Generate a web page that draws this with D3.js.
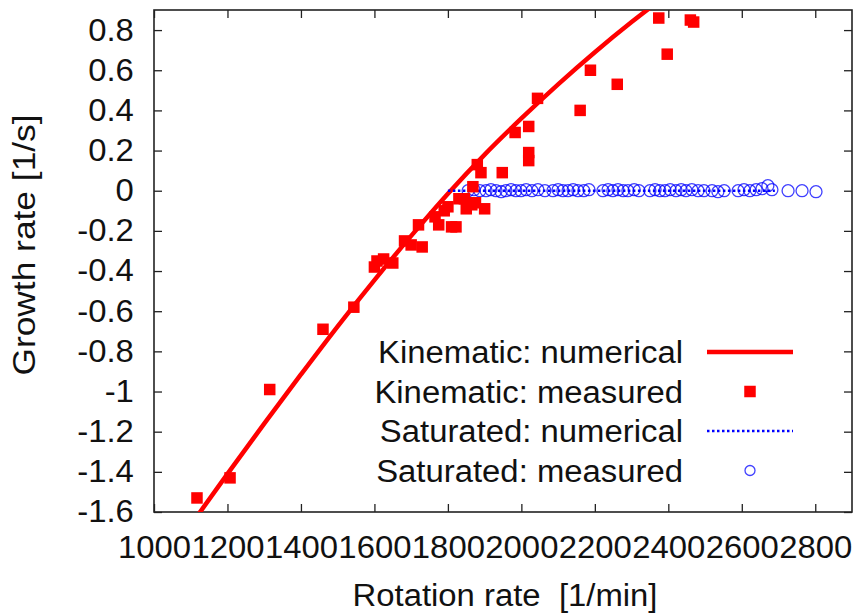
<!DOCTYPE html>
<html>
<head>
<meta charset="utf-8">
<script src="https://cdn.jsdelivr.net/npm/d3@7/dist/d3.min.js"></script>
<style>
  html, body { margin: 0; padding: 0; background: #fff; }
  svg { display: block; }
  text { font-family: "Liberation Sans", Arial, Helvetica, sans-serif; fill: #111; }
</style>
</head>
<body>
<svg id="chart" width="859" height="614"></svg>
<script>
// Axis ticks
const xTickValues = [1000, 1200, 1400, 1600, 1800, 2000, 2200, 2400, 2600, 2800];
const yTickValues = [-1.6, -1.4, -1.2, -1, -0.8, -0.6, -0.4, -0.2, 0, 0.2, 0.4, 0.6, 0.8];

// Kinematic: numerical (rotation rate [1/min], growth rate [1/s])
const kinNumX = [1100, 1200, 1300, 1400, 1500, 1600, 1700, 1800, 1900, 2000, 2100, 2200, 2300, 2400];
const kinNumY = [-1.665, -1.41, -1.16, -0.915, -0.675, -0.445, -0.225, -0.015, 0.18, 0.36, 0.53, 0.69, 0.84, 0.98];

// Kinematic: measured
const kinMeasX = [1117, 1207, 1315, 1460, 1544, 1600, 1607, 1625, 1650, 1682, 1700, 1720, 1730, 1765,
                  1775, 1790, 1800, 1810, 1822, 1830, 1845, 1850, 1865, 1868, 1875, 1880, 1890, 1900,
                  1948, 1983, 2020, 2020, 2020, 2044, 2160, 2188, 2261, 2374, 2397, 2460, 2469];
const kinMeasY = [-1.53, -1.43, -0.99, -0.69, -0.58, -0.38, -0.35, -0.34, -0.36, -0.25, -0.27, -0.17, -0.28, -0.13,
                  -0.17, -0.10, -0.08, -0.18, -0.18, -0.04, -0.04, -0.09, -0.07, 0.02, -0.06, 0.13, 0.09, -0.09,
                  0.09, 0.29, 0.32, 0.19, 0.15, 0.46, 0.40, 0.60, 0.53, 0.86, 0.68, 0.85, 0.84];

// Saturated: numerical
const satNumX = [1800, 2690];
const satNumY = [0, 0];

// Saturated: measured
const satMeasX = [1855, 1871, 1887, 1904, 1917, 1931, 1945, 1958, 1972, 1985, 1999, 2013,
                  2029, 2045, 2064,
                  2086, 2100, 2113, 2127, 2141, 2154, 2170, 2184,
                  2222, 2236, 2249, 2263, 2277, 2290, 2307, 2320,
                  2350, 2364, 2377, 2391, 2405, 2421, 2435, 2448, 2464, 2481, 2497,
                  2519, 2535, 2552,
                  2590, 2606, 2622, 2639, 2655, 2671, 2682,
                  2726, 2764, 2802];
const satMeasY = [0, 0.005, 0, 0, 0.005, 0, -0.005, 0, 0.005, 0, 0, 0.005,
                  0, 0.005, 0,
                  0, 0.005, 0, 0, 0.005, 0, 0, 0.005,
                  0, 0.005, 0, 0.005, 0, 0, 0.005, 0,
                  0, 0.005, 0, 0, 0.005, 0, 0.005, 0, 0.005, 0, 0,
                  0, -0.005, 0,
                  0, 0.005, 0, 0.005, 0.01, 0.025, 0.005,
                  0, 0, -0.005];

const legendLabels = ["Kinematic: numerical", "Kinematic: measured", "Saturated: numerical", "Saturated: measured"];

const svg = d3.select("#chart");
const plot = { left: 154, right: 852, top: 10, bottom: 512 };

const x = d3.scaleLinear().domain([1000, 2900]).range([plot.left, plot.right]);
const y = d3.scaleLinear().domain([-1.6, 0.9]).range([plot.bottom, plot.top]);

const RED = "#ff0000";
const BLUE = "#0000ff";
const FONT = 31;
const STRETCH = 1.06;

svg.append("defs").append("clipPath").attr("id", "plotClip")
  .append("rect")
  .attr("x", plot.left).attr("y", plot.top)
  .attr("width", plot.right - plot.left).attr("height", plot.bottom - plot.top);

// Axes with inward ticks (mirrored on top and right)
const tickLen = 8;
const fmt = d => String(+d.toFixed(1));

const gx = svg.append("g").attr("transform", `translate(0,${plot.bottom})`)
  .call(d3.axisBottom(x).tickValues(xTickValues).tickSize(-tickLen).tickPadding(24).tickFormat(d => String(d)));
const gy = svg.append("g").attr("transform", `translate(${plot.left},0)`)
  .call(d3.axisLeft(y).tickValues(yTickValues).tickSize(-tickLen).tickPadding(19).tickFormat(fmt));
const gxTop = svg.append("g").attr("transform", `translate(0,${plot.top})`)
  .call(d3.axisTop(x).tickValues(xTickValues).tickSize(-tickLen).tickFormat(""));
const gyRight = svg.append("g").attr("transform", `translate(${plot.right},0)`)
  .call(d3.axisRight(y).tickValues(yTickValues).tickSize(-tickLen).tickFormat(""));

[gx, gy, gxTop, gyRight].forEach(g => {
  g.select(".domain").remove();
  g.selectAll(".tick line").attr("stroke", "#222").attr("stroke-width", 1.3);
  g.selectAll(".tick text").attr("font-size", FONT)
    .attr("font-family", "'Liberation Sans', Arial, Helvetica, sans-serif").attr("fill", "#111")
    .attr("transform", `scale(${STRETCH},1)`);
});
gx.selectAll(".tick text").attr("dy", "0.71em");

// Frame
svg.append("rect")
  .attr("x", plot.left).attr("y", plot.top)
  .attr("width", plot.right - plot.left).attr("height", plot.bottom - plot.top)
  .attr("fill", "none").attr("stroke", "#222").attr("stroke-width", 1.6);

// Axis titles
svg.append("text")
  .attr("transform", `translate(${(plot.left + plot.right) / 2 + 2},606) scale(${STRETCH},1)`)
  .attr("text-anchor", "middle").attr("font-size", FONT)
  .attr("xml:space", "preserve").style("white-space", "pre")
  .text("Rotation rate  [1/min]");

svg.append("text")
  .attr("transform", `translate(35,245) rotate(-90) scale(1.14,1)`)
  .attr("text-anchor", "middle").attr("font-size", FONT)
  .text("Growth rate [1/s]");

const g = svg.append("g").attr("clip-path", "url(#plotClip)");

// Kinematic numerical curve
const kinNum = kinNumX.map((v, i) => [v, kinNumY[i]]);
const line = d3.line().x(d => x(d[0])).y(d => y(d[1])).curve(d3.curveMonotoneX);
g.append("path").datum(kinNum)
  .attr("d", line).attr("fill", "none").attr("stroke", RED).attr("stroke-width", 4.5);

// Saturated numerical line
const satNum = satNumX.map((v, i) => [v, satNumY[i]]);
g.append("path").datum(satNum)
  .attr("d", d3.line().x(d => x(d[0])).y(d => y(d[1])))
  .attr("fill", "none").attr("stroke", BLUE).attr("stroke-width", 2.4).attr("stroke-dasharray", "2.5,2.5");

// Saturated measured circles
const circR = 6;
const satMeas = satMeasX.map((v, i) => [v, satMeasY[i]]);
g.selectAll("circle.sat").data(satMeas).join("circle")
  .attr("class", "sat")
  .attr("cx", d => x(d[0])).attr("cy", d => y(d[1])).attr("r", circR)
  .attr("fill", "none").attr("stroke", BLUE).attr("stroke-opacity", 0.75).attr("stroke-width", 1.3);

// Kinematic measured squares
const sq = 11.5;
const kinMeas = kinMeasX.map((v, i) => [v, kinMeasY[i]]);
g.selectAll("rect.kin").data(kinMeas).join("rect")
  .attr("class", "kin")
  .attr("x", d => x(d[0]) - sq / 2).attr("y", d => y(d[1]) - sq / 2)
  .attr("width", sq).attr("height", sq).attr("fill", RED);

// Legend
const legend = svg.append("g");
const rowY = [352, 391.5, 431, 470.5];
const textX = 683, sampleL = 707, sampleR = 793, sampleC = 750;
legendLabels.forEach((lbl, i) => {
  legend.append("text")
    .attr("transform", `translate(${textX},${rowY[i]}) scale(${STRETCH},1)`)
    .attr("dy", "0.36em")
    .attr("text-anchor", "end").attr("font-size", FONT).text(lbl);
});
legend.append("line").attr("x1", sampleL).attr("x2", sampleR).attr("y1", rowY[0]).attr("y2", rowY[0])
  .attr("stroke", RED).attr("stroke-width", 4.5);
legend.append("rect").attr("x", sampleC - sq / 2).attr("y", rowY[1] - sq / 2)
  .attr("width", sq).attr("height", sq).attr("fill", RED);
legend.append("line").attr("x1", sampleL).attr("x2", sampleR).attr("y1", rowY[2]).attr("y2", rowY[2])
  .attr("stroke", BLUE).attr("stroke-width", 2.4).attr("stroke-dasharray", "2.5,2.5");
legend.append("circle").attr("cx", sampleC).attr("cy", rowY[3]).attr("r", 5)
  .attr("fill", "none").attr("stroke", BLUE).attr("stroke-opacity", 0.75).attr("stroke-width", 1.3);
</script>
</body>
</html>
